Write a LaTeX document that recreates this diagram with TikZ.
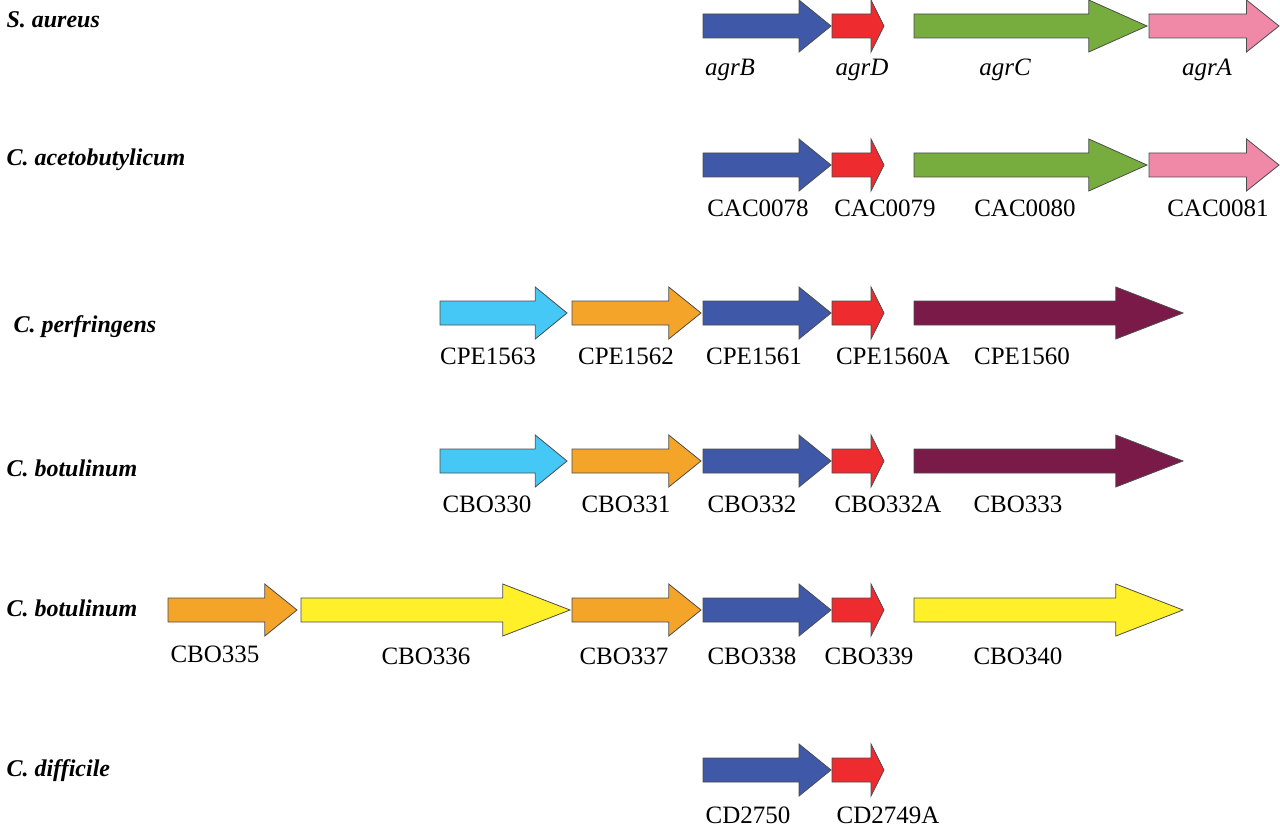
\documentclass[tikz,border=0pt]{standalone}
\usepackage{fontspec}
\setmainfont{Liberation Serif}
\definecolor{cB}{HTML}{3F58A8}
\definecolor{cR}{HTML}{EE2B2E}
\definecolor{cG}{HTML}{77AC3F}
\definecolor{cP}{HTML}{F088A8}
\definecolor{cC}{HTML}{45C8F5}
\definecolor{cO}{HTML}{F5A42A}
\definecolor{cM}{HTML}{7A1A48}
\definecolor{cY}{HTML}{FFF02A}
\newcommand\gene[4]{%
 \pgfmathsetmacro\hs{#2-0.25*(#2-#1)}%
 \draw[gene,fill=#4] (#1,#3-12) -- (\hs,#3-12) -- (\hs,#3-26) -- (#2,#3) -- (\hs,#3+26) -- (\hs,#3+12) -- (#1,#3+12) -- cycle;}
\begin{document}
\begin{tikzpicture}[x=1pt,y=-1pt,
 gene/.style={draw=black!70,line width=0.8pt},
 lab/.style={font=\fontsize{25}{25}\selectfont,anchor=center},
 sp/.style={font=\fontsize{24}{24}\selectfont\bfseries\itshape,anchor=west}]
\useasboundingbox (0,0) rectangle (1280,829);
% row 1
\node[sp] (s1) at (3,20) {S. aureus};
\gene{703}{831}{26}{cB}\gene{832}{884}{26}{cR}\gene{914}{1147}{26}{cG}\gene{1149}{1279}{26}{cP}
\node[lab] (l11) at (730,70) {\itshape agrB};
\node[lab] (l12) at (862,70) {\itshape agrD};
\node[lab] (l13) at (1005,70) {\itshape agrC};
\node[lab] (l14) at (1207,70) {\itshape agrA};
% row 2
\node[sp] (s2) at (3,160) {C. acetobutylicum};
\gene{703}{831}{165}{cB}\gene{832}{884}{165}{cR}\gene{914}{1147}{165}{cG}\gene{1149}{1279}{165}{cP}
\node[lab] (l21) at (758,208) {CAC0078};
\node[lab] (l22) at (885,208) {CAC0079};
\node[lab] (l23) at (1025,208) {CAC0080};
\node[lab] (l24) at (1218,208) {CAC0081};
% row 3
\node[sp] (s3) at (10,327) {C. perfringens};
\gene{440}{567}{313}{cC}\gene{572}{701}{313}{cO}\gene{703}{831}{313}{cB}\gene{832}{884}{313}{cR}\gene{914}{1183}{313}{cM}
\node[lab] (l31) at (488,356) {CPE1563};
\node[lab] (l32) at (626,356) {CPE1562};
\node[lab] (l33) at (754,356) {CPE1561};
\node[lab] (l34) at (893,356) {CPE1560A};
\node[lab] (l35) at (1022,356) {CPE1560};
% row 4
\node[sp] (s4) at (3,468) {C. botulinum};
\gene{440}{567}{461}{cC}\gene{572}{701}{461}{cO}\gene{703}{831}{461}{cB}\gene{832}{884}{461}{cR}\gene{914}{1183}{461}{cM}
\node[lab] (l41) at (487,504) {CBO330};
\node[lab] (l42) at (626,504) {CBO331};
\node[lab] (l43) at (752,504) {CBO332};
\node[lab] (l44) at (888,504) {CBO332A};
\node[lab] (l45) at (1018,504) {CBO333};
% row 5
\node[sp] (s5) at (3,608) {C. botulinum};
\gene{168}{297}{610}{cO}\gene{301}{570}{610}{cY}\gene{572}{701}{610}{cO}\gene{703}{831}{610}{cB}\gene{832}{884}{610}{cR}\gene{914}{1183}{610}{cY}
\node[lab] (l51) at (215,654) {CBO335};
\node[lab] (l52) at (426,656) {CBO336};
\node[lab] (l53) at (624,656) {CBO337};
\node[lab] (l54) at (752,656) {CBO338};
\node[lab] (l55) at (869,656) {CBO339};
\node[lab] (l56) at (1018,656) {CBO340};
% row 6
\node[sp] (s6) at (3,771) {C. difficile};
\gene{703}{831}{770}{cB}\gene{832}{884}{770}{cR}
\node[lab] (l61) at (748,815) {CD2750};
\node[lab] (l62) at (888,815) {CD2749A};
\end{tikzpicture}
\end{document}
